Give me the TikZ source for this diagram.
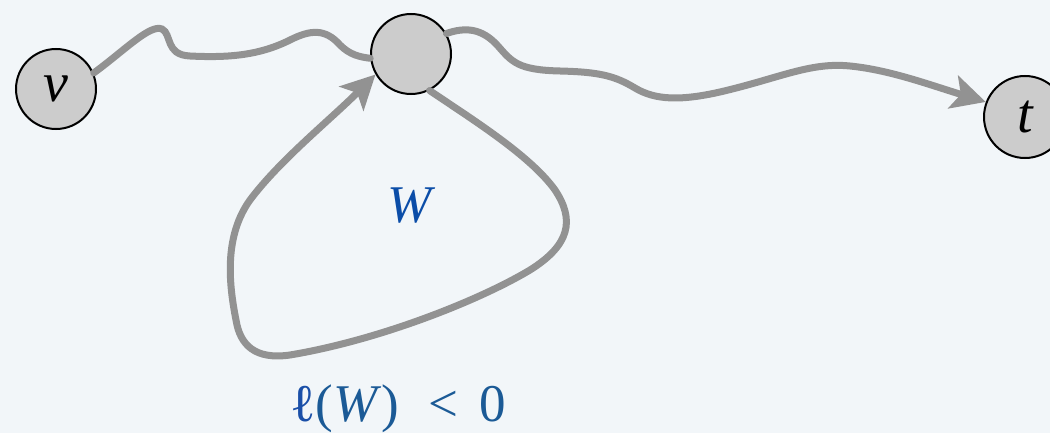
\documentclass[tikz,border=0pt]{standalone}
\usepackage{fontspec}
\setmainfont{Liberation Serif}
\usetikzlibrary{arrows.meta}
\definecolor{bgc}{HTML}{F2F6F9}
\definecolor{edgec}{HTML}{929292}
\definecolor{nodec}{HTML}{CCCCCC}
\definecolor{wblue}{HTML}{0B4DA8}
\definecolor{lblue}{HTML}{1A4FA8}
\definecolor{tblue}{HTML}{1B5A96}
\tikzset{
  vertex/.style={circle, draw=black, line width=2pt, fill=nodec, minimum size=80pt, inner sep=0pt, font=\fontsize{56}{60}\selectfont\itshape},
  walk/.style={draw=edgec, line width=7pt, line cap=round},
  tip/.style={-{Stealth[length=34pt,width=34pt,inset=8pt]}},
  lbl/.style={inner sep=0pt, font=\fontsize{53}{57}\selectfont}
}
\begin{document}
\begin{tikzpicture}[x=1pt,y=-1pt]
\fill[bgc] (0,0) rectangle (1050,433);
\useasboundingbox (0,0) rectangle (1050,433);
\node[vertex] (v) at (56,89) {v};
\node[vertex] (m) at (411,54) {};
\node[vertex, minimum size=82pt] (t) at (1025,117) {t};
% v to m
\draw[walk] (v.23) .. controls (125,50) and (150,24) .. (162,29)
  .. controls (172,34) and (165,55) .. (190,56)
  .. controls (230,58) and (260,55) .. (290,40)
  .. controls (310,30) and (325,28) .. (340,45)
  .. controls (350,55) and (360,57) .. (m.186);
% m to t
\draw[walk, tip] (m.30) .. controls (465,27) and (482,28) .. (498,46)
  .. controls (512,62) and (518,70) .. (560,71)
  .. controls (600,72) and (615,76) .. (635,88)
  .. controls (655,100) and (680,101) .. (720,92)
  .. controls (780,78) and (810,62) .. (850,66)
  .. controls (890,70) and (930,85) .. (t.159);
% loop W
\draw[walk, tip] (m.297) .. controls (470,118) and (530,155) .. (555,190)
  .. controls (575,220) and (570,245) .. (530,270)
  .. controls (480,300) and (380,340) .. (290,355)
  .. controls (255,360) and (240,345) .. (236,320)
  .. controls (228,280) and (225,235) .. (250,200)
  .. controls (280,160) and (330,120) .. (m.210);
\node[lbl, text=wblue] (w) at (412,206) {\textit{W}};
\node[lbl] (len) at (398,409) {{\color{lblue}ℓ}{\color{tblue}(\textit{W})\hspace{0.55em}<\hspace{0.4em}0}};
\end{tikzpicture}
\end{document}
